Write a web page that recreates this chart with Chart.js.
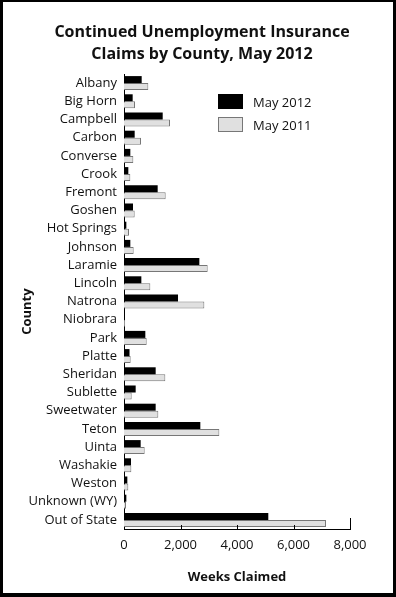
<!DOCTYPE html>
<html>
<head>
<meta charset="utf-8">
<title>Continued Unemployment Insurance Claims by County, May 2012</title>
<script src="https://cdn.jsdelivr.net/npm/chart.js@4.4.1/dist/chart.umd.min.js"></script>
<style>
    html, body { margin: 0; padding: 0; background: #fff; }
    #wrap { position: relative; width: 396px; height: 597px; }
    #frame {
        position: absolute; left: 0; top: 0; width: 396px; height: 597px;
        box-sizing: border-box; border: solid #000; border-width: 2px 3px 4px 3px;
        pointer-events: none;
    }
    #title {
        position: absolute; left: 4px; top: 20px; width: 396px; text-align: center;
        font: bold 16px/22px 'Open Sans', sans-serif; color: #111;
    }
    #legend { position: absolute; left: 218px; top: 94px; font: 13px 'Open Sans', sans-serif; color: #111; }
    .item { display: flex; align-items: center; height: 15px; margin-bottom: 8px; }
    .box { width: 25px; height: 15px; box-sizing: border-box; margin-right: 10px; }
</style>
</head>
<body>
<div id="wrap">
    <canvas id="barChart" width="396" height="597"></canvas>
    <div id="title">Continued Unemployment Insurance<br>Claims by County, May 2012</div>
    <div id="legend"></div>
    <div id="frame"></div>
</div>
<script>
// Dati
const counties = ['Albany', 'Big Horn', 'Campbell', 'Carbon', 'Converse', 'Crook', 'Fremont', 'Goshen',
    'Hot Springs', 'Johnson', 'Laramie', 'Lincoln', 'Natrona', 'Niobrara', 'Park', 'Platte',
    'Sheridan', 'Sublette', 'Sweetwater', 'Teton', 'Uinta', 'Washakie', 'Weston', 'Unknown (WY)', 'Out of State'];
const may2012 = [626, 307, 1370, 378, 224, 153, 1192, 319, 83, 224, 2667, 614, 1912, 20, 755, 195,
    1121, 413, 1121, 2702, 590, 248, 118, 83, 5108];
const may2011 = [861, 389, 1628, 602, 330, 224, 1475, 378, 177, 342, 2962, 932, 2844, 40, 803, 236,
    1463, 272, 1215, 3375, 732, 260, 153, 71, 7150];
const xTicks = [0, 2000, 4000, 6000, 8000];

const font = "'Open Sans', sans-serif";

// Tacche interne sull'asse x
const innerTicks = {
    id: 'innerTicks',
    afterDatasetsDraw(chart) {
        const x = chart.scales.x;
        const ctx = chart.ctx;
        const bottom = chart.chartArea.bottom;
        ctx.save();
        ctx.strokeStyle = '#000';
        ctx.lineWidth = 1;
        xTicks.forEach(v => {
            if (v === 0) return;
            const px = Math.round(x.getPixelForValue(v)) + 0.5;
            const len = v === xTicks[xTicks.length - 1] ? 11 : 4;
            ctx.beginPath();
            ctx.moveTo(px, bottom);
            ctx.lineTo(px, bottom - len);
            ctx.stroke();
        });
        ctx.restore();
    }
};

const datasets = [
    { label: 'May 2012', data: may2012, backgroundColor: '#000', borderColor: '#000', borderWidth: 0 },
    { label: 'May 2011', data: may2011, backgroundColor: '#e0e0e0', borderColor: '#777', borderWidth: 1 }
];

const chart = new Chart(document.getElementById('barChart').getContext('2d'), {
    type: 'bar',
    data: {
        labels: counties,
        datasets: datasets.map(d => Object.assign({ categoryPercentage: 0.77, barPercentage: 1 }, d))
    },
    options: {
        indexAxis: 'y',
        responsive: false,
        animation: false,
        layout: { padding: { left: 0, right: 46, top: 74, bottom: 0 } },
        plugins: {
            legend: { display: false },
            tooltip: { enabled: false },
            title: { display: false }
        },
        scales: {
            x: {
                min: 0,
                max: 8000,
                afterBuildTicks: s => { s.ticks = xTicks.map(v => ({ value: v })); },
                afterFit: s => { s.height = 68; },
                grid: { display: false, drawTicks: false },
                border: { display: true, color: '#000', width: 1 },
                ticks: {
                    color: '#111',
                    padding: 8,
                    font: { family: font, size: 13 },
                    callback: v => v.toLocaleString('en-US')
                },
                title: {
                    display: true,
                    text: 'Weeks Claimed',
                    color: '#111',
                    font: { family: font, size: 13, weight: 'bold' },
                    padding: { top: 0, bottom: 12 }
                }
            },
            y: {
                afterFit: s => { s.width = 124; },
                grid: { display: false, drawTicks: false },
                border: { display: true, color: '#000', width: 1 },
                ticks: {
                    color: '#111',
                    padding: 7,
                    autoSkip: false,
                    font: { family: font, size: 13 }
                },
                title: {
                    display: true,
                    text: 'County      ',
                    color: '#111',
                    font: { family: font, size: 13, weight: 'bold' },
                    padding: { top: 19, bottom: 0 }
                }
            }
        }
    },
    plugins: [innerTicks]
});

// Legenda HTML
const legend = document.getElementById('legend');
datasets.forEach(d => {
    const item = document.createElement('div');
    item.className = 'item';
    const box = document.createElement('span');
    box.className = 'box';
    box.style.background = d.backgroundColor;
    box.style.border = '1px solid ' + (d.borderWidth ? d.borderColor : d.backgroundColor);
    const text = document.createElement('span');
    text.textContent = d.label;
    item.appendChild(box);
    item.appendChild(text);
    legend.appendChild(item);
});
</script>
</body>
</html>
